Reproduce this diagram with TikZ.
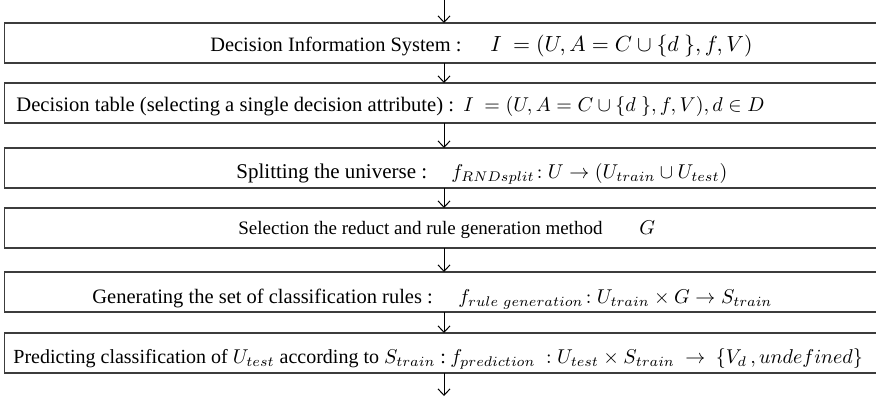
\documentclass[tikz,border=0pt]{standalone}
\usepackage{fontspec}
\setmainfont{Liberation Serif}
\usetikzlibrary{arrows.meta}
\definecolor{boxgray}{HTML}{3C3C3C}
\begin{document}
\begin{tikzpicture}[x=0.5pt,y=-0.5pt,
  stepbox/.style={draw=boxgray, line width=0.9pt, minimum width=439.5pt, minimum height=20pt, inner sep=0pt, outer sep=0pt},
  flow/.style={draw=black, line width=0.5pt, -{Straight Barb[length=3.2pt,width=6pt,line width=0.5pt]}},
  lbl/.style={anchor=base west, inner sep=0pt, font=\fontsize{10.5}{12}\selectfont},
  mth/.style={anchor=base west, inner sep=0pt, font=\fontsize{10}{12}\selectfont}]
\useasboundingbox (0,0) rectangle (876,398);
% boxes
\node[stepbox] (b1) at (444,43) {};
\node[stepbox] (b2) at (444,103) {};
\node[stepbox] (b3) at (444,168) {};
\node[stepbox] (b4) at (444,228) {};
\node[stepbox] (b5) at (444,292) {};
\node[stepbox] (b6) at (444,353) {};
% connectors
\coordinate (start) at (444,0);
\coordinate (finish) at (444,396);
\draw[flow] (start) -- (b1.north);
\draw[flow] (b1.south) -- (b2.north);
\draw[flow] (b2.south) -- (b3.north);
\draw[flow] (b3.south) -- (b4.north);
\draw[flow] (b4.south) -- (b5.north);
\draw[flow] (b5.south) -- (b6.north);
\draw[flow] (b6.south) -- (finish);
% texts
\node[lbl, font=\fontsize{10.2}{12}\selectfont] (t1) at (210,51) {Decision Information System :};
\node[mth, font=\fontsize{10.5}{12}\selectfont] (m1) at (490,51) {$I\ = (U, A = C \cup \{d\ \}, f, V)$};
\node[lbl, font=\fontsize{10.3}{12}\selectfont] (t2) at (16,111) {Decision table (selecting a single decision attribute) :};
\node[mth, font=\fontsize{10.3}{12}\selectfont] (m2) at (463,111) {$I\ = (U, A = C \cup \{d\ \}, f, V), d \in D$};
\node[lbl] (t3) at (236,178) {Splitting the universe :};
\node[mth] (m3) at (451,178) {$f_{RNDsplit}\!: U \rightarrow (U_{train} \cup U_{test})$};
\node[lbl, font=\fontsize{9.5}{12}\selectfont] (t4) at (238,234) {Selection the reduct and rule generation method};
\node[mth] (m4) at (639,234) {$G$};
\node[lbl, font=\fontsize{10.25}{12}\selectfont] (t5) at (92,303) {Generating the set of classification rules :};
\node[mth] (m5) at (458,303) {$f_{rule\ generation}\!: U_{train} \times G \rightarrow S_{train}$};
\node[lbl, font=\fontsize{10}{12}\selectfont] (t6) at (13,363) {Predicting classification of $U_{test}$\ according to $S_{train}$ :};
\node[mth] (m6) at (450,363) {$f_{prediction}\ :U_{test} \times S_{train} \ \rightarrow\ \{V_d\,,undefined\}$};
\end{tikzpicture}
\end{document}
